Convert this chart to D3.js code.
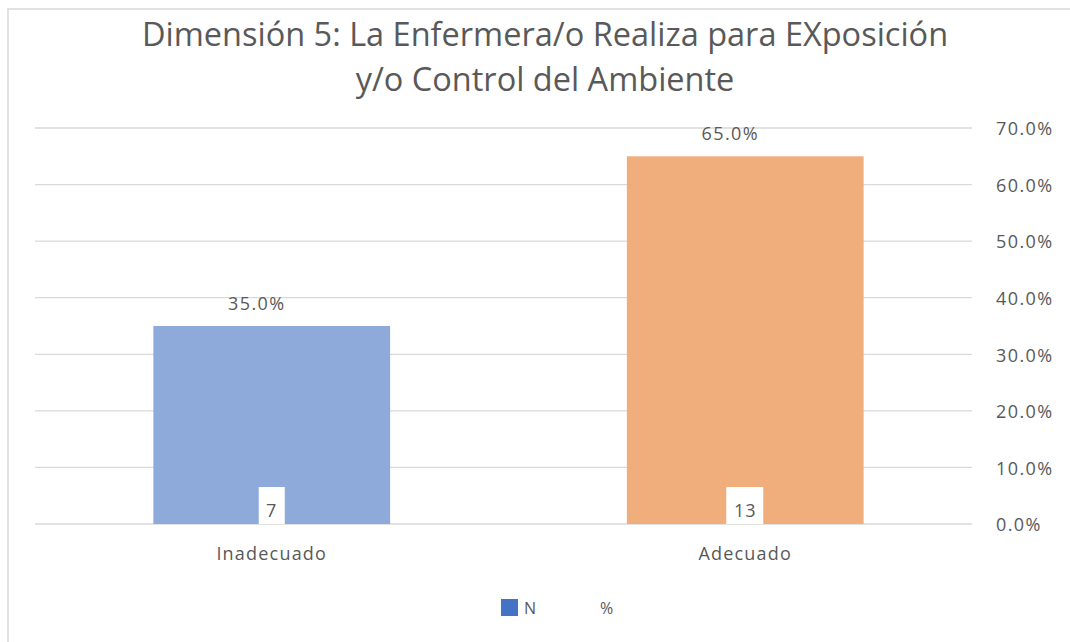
<!DOCTYPE html>
<html>
<head>
<meta charset="utf-8">
<script src="https://cdn.jsdelivr.net/npm/d3@7"></script>
<style>
  body { margin: 0; background: #fff; }
  text { font-family: 'Open Sans', sans-serif; fill: #595959; }
</style>
</head>
<body>
<script>
const categories = ['Inadecuado', 'Adecuado'];
const counts = [7, 13];
const percents = [0.35, 0.65];
const barColors = ['#8eaadb', '#f1ae7d'];
const yTicks = [0, 0.1, 0.2, 0.3, 0.4, 0.5, 0.6, 0.7];
const titleLines = ['Dimensión 5: La Enfermera/o Realiza para EXposición', 'y/o Control del Ambiente'];

let dim = { width: 1070, height: 642 };
let svg = d3.select('body').append('svg').attr('width', dim.width).attr('height', dim.height);

// outer frame (only left/top visible)
svg.append('polyline')
  .attr('points', '8,642 8,9 1070,9')
  .attr('fill', 'none')
  .attr('stroke', '#d9d9d9')
  .attr('stroke-width', 1.5);

let plot = { left: 35, right: 972, top: 128, bottom: 524 };

let x = d3.scaleBand().domain(categories).range([35, 982]);
let y = d3.scaleLinear().domain([0, 0.7]).range([plot.bottom, plot.top]);

// grid
svg.append('g')
  .selectAll('line')
  .data(yTicks)
  .join('line')
  .attr('x1', plot.left)
  .attr('x2', plot.right)
  .attr('y1', d => y(d))
  .attr('y2', d => y(d))
  .attr('stroke', '#d9d9d9')
  .attr('stroke-width', 1.3);

// right axis labels
let axisR = d3.axisRight(y).tickValues(yTicks).tickFormat(d3.format('.1%')).tickSize(0).tickPadding(24);
let gAxis = svg.append('g').attr('transform', `translate(${plot.right},0)`).call(axisR);
gAxis.select('.domain').remove();
gAxis.selectAll('text')
  .style('font-family', "'Open Sans', sans-serif")
  .style('font-size', '18px')
  .style('letter-spacing', '1.4px')
  .attr('dy', '0.38em')
  .attr('fill', '#595959');

// bars
let barW = x.bandwidth() * 0.5;
svg.append('g')
  .selectAll('rect')
  .data(categories)
  .join('rect')
  .attr('x', d => x(d) + (x.bandwidth() - barW) / 2)
  .attr('y', (d, i) => y(percents[i]))
  .attr('width', barW)
  .attr('height', (d, i) => y(0) - y(percents[i]))
  .attr('fill', (d, i) => barColors[i]);

// percent labels (sit slightly left of bar centre, like the source)
svg.append('g')
  .selectAll('text')
  .data(categories)
  .join('text')
  .attr('x', d => x(d) + x.bandwidth() / 2 - 15)
  .attr('y', (d, i) => y(percents[i]) - 16)
  .attr('text-anchor', 'middle')
  .style('font-size', '18px')
  .style('letter-spacing', '1.4px')
  .text((d, i) => d3.format('.1%')(percents[i]));

// N labels in white boxes
let nLab = svg.append('g')
  .selectAll('g')
  .data(categories)
  .join('g')
  .attr('transform', d => `translate(${x(d) + x.bandwidth() / 2},0)`);
nLab.append('rect')
  .attr('x', (d, i) => counts[i] >= 10 ? -19 : -13)
  .attr('width', (d, i) => counts[i] >= 10 ? 37 : 26)
  .attr('y', y(0) - 37)
  .attr('height', 37)
  .attr('fill', '#fff');
nLab.append('text')
  .attr('y', y(0) - 7)
  .attr('text-anchor', 'middle')
  .style('font-size', '18px')
  .style('letter-spacing', '1px')
  .attr('fill', '#404040')
  .text((d, i) => counts[i]);

// category labels
svg.append('g')
  .selectAll('text')
  .data(categories)
  .join('text')
  .attr('x', d => x(d) + x.bandwidth() / 2)
  .attr('y', 560)
  .attr('text-anchor', 'middle')
  .style('font-size', '18px')
  .style('letter-spacing', '1.2px')
  .text(d => d);

// title
svg.append('g')
  .selectAll('text')
  .data(titleLines)
  .join('text')
  .attr('x', 545)
  .attr('y', (d, i) => 46 + i * 45)
  .attr('text-anchor', 'middle')
  .style('font-size', '32.5px')
  .text(d => d);

// legend
let leg = svg.append('g');
leg.append('rect').attr('x', 501).attr('y', 599).attr('width', 17).attr('height', 17).attr('fill', '#4472c4');
leg.append('text').attr('x', 524).attr('y', 614).style('font-size', '16px').text('N');
leg.append('text').attr('x', 600).attr('y', 614).style('font-size', '16px').text('%');
</script>
</body>
</html>
